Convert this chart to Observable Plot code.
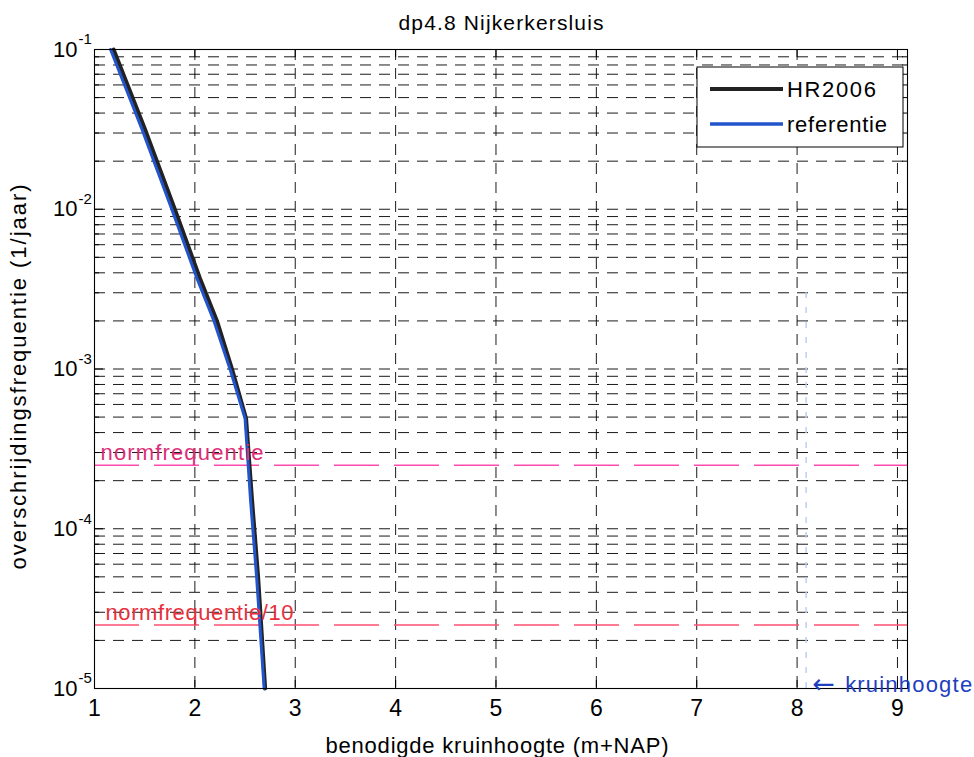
<!DOCTYPE html>
<html>
<head>
<meta charset="utf-8">
<script src="https://cdn.jsdelivr.net/npm/d3@7"></script>
<script src="https://cdn.jsdelivr.net/npm/@observablehq/plot@0.6"></script>
<style>
  body { margin: 0; background: #fff; }
  #chart { position: relative; width: 974px; height: 757px; font-family: "Liberation Sans", Arial, Helvetica, sans-serif; }
  #chart svg { position: absolute; left: 0; top: 0; }
</style>
</head>
<body>
<div id="chart"></div>
<script>
// ---------- texts ----------
const titleText = "dp4.8 Nijkerkersluis";
const xLabel = "benodigde kruinhoogte (m+NAP)";
const yLabel = "overschrijdingsfrequentie (1/jaar)";
const seriesNames = ["HR2006", "referentie"];
const normLabels = ["normfrequentie", "normfrequentie/10"];
const kruinArrow = "\u2190";
const kruinLabel = "kruinhoogte";

// ---------- series ----------
const hrX  = [1.19, 1.50, 1.80, 2.05, 2.22, 2.37, 2.51, 2.57, 2.63, 2.70];
const hrY  = [1e-1, 3.2e-2, 1e-2, 3.7e-3, 2e-3, 1e-3, 4.9e-4, 1.5e-4, 5e-5, 1e-5];
const refX = [1.16, 1.47, 1.77, 2.02, 2.19, 2.35, 2.50, 2.555, 2.615, 2.69];
const refY = [1e-1, 3.2e-2, 1e-2, 3.7e-3, 2e-3, 1e-3, 4.9e-4, 1.5e-4, 5e-5, 1e-5];

// ---------- reference levels ----------
const normFreq = 2.5e-4;
const normFreq10 = 2.5e-5;
const kruinhoogte = 8.09;

// ---------- ticks ----------
const xTicks = [1, 2, 3, 4, 5, 6, 7, 8, 9];
const yDecades = [1e-5, 1e-4, 1e-3, 1e-2, 1e-1];
const yMinorFactors = [2, 3, 4, 5, 6, 7, 8, 9];

// ---------- layout ----------
const W = 974, H = 757;
const mL = 94, mR = 67, mT = 49, mB = 69;
const xDom = [1, 9.1];
const yDom = [1e-5, 1e-1];
const pxPerX = (W - mL - mR) / (xDom[1] - xDom[0]);
const pxPerDec = (H - mT - mB) / Math.log10(yDom[1] / yDom[0]);

const hrData = hrX.map((x, i) => ({x, y: hrY[i]}));
const refData = refX.map((x, i) => ({x, y: refY[i]}));

const yMinor = [];
yDecades.slice(0, -1).forEach(d => yMinorFactors.forEach(k => yMinor.push(k * d)));
const yInnerGrid = [...yMinor, ...yDecades.slice(1, -1)];

const dashGrid = "11,8";
const tx = px => px / pxPerX;                 // pixel length -> x units
const ty = px => Math.pow(10, px / pxPerDec); // pixel length -> y factor
const FONT = '"Liberation Sans", Arial, Helvetica, sans-serif';

const svg = Plot.plot({
  width: W, height: H,
  marginLeft: mL, marginRight: mR, marginTop: mT, marginBottom: mB,
  style: {fontFamily: FONT, background: "#fff", color: "#000", overflow: "visible"},
  x: {domain: xDom, axis: null},
  y: {type: "log", domain: yDom, axis: null},
  marks: [
    // dashed grid
    Plot.ruleY(yInnerGrid, {y: d => d, stroke: "#000", strokeWidth: 0.9, strokeDasharray: dashGrid}),
    Plot.ruleX(xTicks.slice(1), {x: d => d, stroke: "#000", strokeWidth: 0.9, strokeDasharray: dashGrid}),
    // inward ticks (left / right)
    Plot.ruleY(yMinor, {y: d => d, x1: xDom[0], x2: xDom[0] + tx(5), stroke: "#000", strokeWidth: 1}),
    Plot.ruleY(yMinor, {y: d => d, x1: xDom[1] - tx(5), x2: xDom[1], stroke: "#000", strokeWidth: 1}),
    Plot.ruleY(yDecades, {y: d => d, x1: xDom[0], x2: xDom[0] + tx(9), stroke: "#000", strokeWidth: 1}),
    Plot.ruleY(yDecades, {y: d => d, x1: xDom[1] - tx(9), x2: xDom[1], stroke: "#000", strokeWidth: 1}),
    // inward ticks (bottom / top)
    Plot.ruleX(xTicks, {x: d => d, y1: yDom[0], y2: yDom[0] * ty(8), stroke: "#000", strokeWidth: 1}),
    Plot.ruleX(xTicks, {x: d => d, y1: yDom[1] / ty(8), y2: yDom[1], stroke: "#000", strokeWidth: 1}),
    // kruinhoogte (faint)
    Plot.ruleX([kruinhoogte], {x: d => d, y1: yDom[0], y2: 3e-3, stroke: "#bcd0f2", strokeWidth: 1.5, strokeDasharray: "6,9"}),
    // norm lines
    Plot.ruleY([normFreq], {y: d => d, stroke: "#ff4aae", strokeWidth: 1.4, strokeDasharray: "45,15"}),
    Plot.ruleY([normFreq10], {y: d => d, stroke: "#ff5070", strokeWidth: 1.4, strokeDasharray: "45,15"}),
    // curves
    Plot.line(hrData, {x: "x", y: "y", stroke: "#222", strokeWidth: 4}),
    Plot.line(refData, {x: "x", y: "y", stroke: "#2255cc", strokeWidth: 3}),
    // frame
    Plot.frame({stroke: "#000", strokeWidth: 1.1}),
    // norm labels
    Plot.text([normLabels[0]], {text: d => d, x: xDom[0], y: normFreq, dx: 6, dy: -12, textAnchor: "start", lineAnchor: "middle", fill: "#dc2e78", fontSize: 22}),
    Plot.text([normLabels[1]], {text: d => d, x: xDom[0], y: normFreq10, dx: 11, dy: -12, textAnchor: "start", lineAnchor: "middle", fill: "#e8303c", fontSize: 22}),
    // kruinhoogte label
    Plot.text([kruinArrow], {text: d => d, x: kruinhoogte, y: yDom[0], dx: 6, dy: -4, textAnchor: "start", lineAnchor: "middle", fill: "#1f3fbf", fontSize: 27, fontFamily: "DejaVu Sans"}),
    Plot.text([kruinLabel], {text: d => d, x: kruinhoogte, y: yDom[0], dx: 39, dy: -4, textAnchor: "start", lineAnchor: "middle", fill: "#1f3fbf", fontSize: 22}),
    // x tick labels
    Plot.text(xTicks, {x: d => d, y: yDom[0], text: d => String(d), dy: 20, lineAnchor: "middle", fontSize: 23, fill: "#000"}),
    // y tick labels: mantissa + exponent
    Plot.text(yDecades, {x: xDom[0], y: d => d, text: () => "10", dx: -17, textAnchor: "end", lineAnchor: "middle", fontSize: 22, fill: "#000"}),
    Plot.text(yDecades, {x: xDom[0], y: d => d, text: d => String(Math.round(Math.log10(d))), dx: -16, dy: -10, textAnchor: "start", lineAnchor: "middle", fontSize: 15, fill: "#000"}),
    // title and axis labels
    Plot.text([titleText], {text: d => d, frameAnchor: "top", dy: -26, textAnchor: "middle", lineAnchor: "middle", fontSize: 21, fill: "#000"}),
    Plot.text([xLabel], {text: d => d, frameAnchor: "bottom", dy: 57, dx: -4, textAnchor: "middle", lineAnchor: "middle", fontSize: 22, fill: "#000"}),
    Plot.text([yLabel], {text: d => d, frameAnchor: "left", rotate: -90, dx: -76, dy: 8, textAnchor: "middle", lineAnchor: "middle", fontSize: 22, fill: "#000"})
  ]
});
document.getElementById("chart").appendChild(svg);

// stretch a few texts to the widths seen in the reference
function fit(content, len) {
  d3.select(svg).selectAll("text")
    .filter(function () { return this.textContent === content; })
    .attr("textLength", len).attr("lengthAdjust", "spacing");
}
fit(titleText, 205);
fit(xLabel, 343);
fit(yLabel, 385);
fit(normLabels[0], 163);
fit(normLabels[1], 188);
fit(kruinLabel, 127);

// ---------- legend (overlay) ----------
const leg = d3.select("#chart").append("svg")
  .attr("width", W).attr("height", H)
  .style("pointer-events", "none")
  .style("font-family", FONT);
const L = {x: 697, y: 67, w: 206, h: 80};
leg.append("rect").attr("x", L.x).attr("y", L.y).attr("width", L.w).attr("height", L.h)
  .attr("fill", "#fff").attr("stroke", "#000").attr("stroke-width", 1);
const legColors = ["#222", "#2255cc"];
const legWidths = [4, 3.5];
const legTextLen = [89, 100];
seriesNames.forEach((name, i) => {
  const cy = L.y + 22 + i * 35;
  leg.append("line").attr("x1", L.x + 13).attr("x2", L.x + 86).attr("y1", cy).attr("y2", cy)
    .attr("stroke", legColors[i]).attr("stroke-width", legWidths[i]);
  leg.append("text").attr("x", L.x + 90).attr("y", cy).attr("dy", "0.36em")
    .attr("font-size", 22).attr("fill", "#000")
    .attr("textLength", legTextLen[i]).attr("lengthAdjust", "spacing")
    .text(name);
});
</script>
</body>
</html>
